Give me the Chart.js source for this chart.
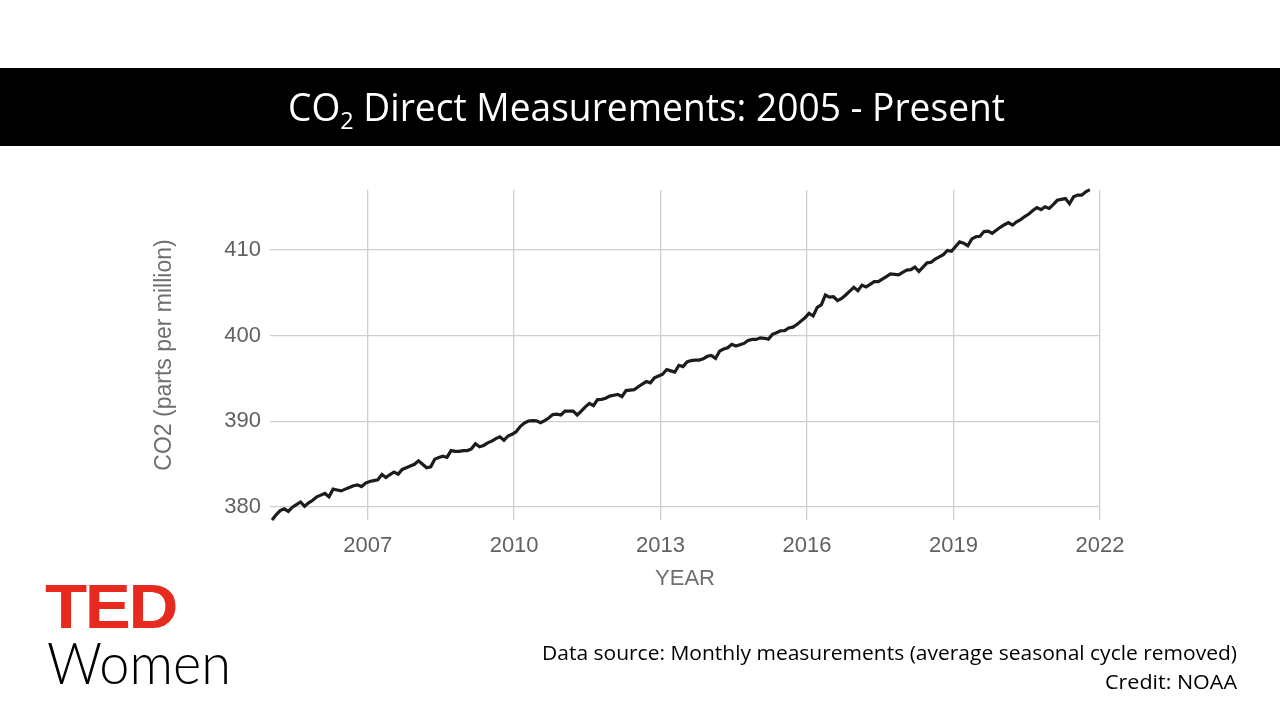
<!DOCTYPE html>
<html>
<head>
<meta charset="utf-8">
<script src="https://cdn.jsdelivr.net/npm/chart.js@4/dist/chart.umd.min.js"></script>
<style>
  html, body { margin: 0; padding: 0; background: #fff; width: 1280px; height: 720px; overflow: hidden; }
  #wrap { position: absolute; left: 0; top: 0; width: 1280px; height: 720px; }
  #bar { position: absolute; left: 0; top: 68px; width: 1280px; height: 78px; background: #000; }
  .fit { position: absolute; white-space: nowrap; transform-origin: 0 0; }
  #title { color: #fff; font-family: "Open Sans", sans-serif; font-size: 38px; line-height: 1; }
  #title sub { font-size: 24px; vertical-align: -8px; line-height: 0; }
  .src { color: #000; font-family: "Open Sans", sans-serif; font-size: 20px; line-height: 1; }
  #ted { color: #e62b1e; font-family: "Liberation Sans", Arial, sans-serif; font-weight: bold; font-size: 58px; line-height: 1; letter-spacing: -2px; }
  #women { color: #000; font-family: "Lato", "Roboto", sans-serif; font-weight: 300; font-size: 58px; line-height: 1; }
  #chartBox { position: absolute; left: 0; top: 0; width: 1280px; height: 720px; }
</style>
</head>
<body>
<div id="wrap">
  <div id="bar"></div>
  <div id="chartBox"><canvas id="c" width="1280" height="720"></canvas></div>
  <div id="title" class="fit">CO<sub>2</sub> Direct Measurements: 2005 - Present</div>
  <div id="src1" class="fit src">Data source: Monthly measurements (average seasonal cycle removed)</div>
  <div id="src2" class="fit src">Credit: NOAA</div>
  <div id="ted" class="fit">TED</div>
  <div id="women" class="fit">Women</div>
</div>
<script>
// ---- Data (monthly CO2, ppm, seasonal cycle removed) ----
const startYear = 2005;
const co2_2005 = [378.5, 379.1, 379.6, 379.8, 379.5, 380.0, 380.3, 380.6, 380.1, 380.5, 380.8, 381.2];
const co2_2006 = [381.4, 381.6, 381.2, 382.1, 382.0, 381.9, 382.1, 382.3, 382.5, 382.6, 382.4, 382.8];
const co2_2007 = [383.0, 383.1, 383.2, 383.8, 383.45, 383.8, 384.1, 383.85, 384.4, 384.6, 384.8, 385.0];
const co2_2008 = [385.4, 385.0, 384.6, 384.7, 385.6, 385.8, 385.95, 385.8, 386.6, 386.5, 386.5, 386.6];
const co2_2009 = [386.6, 386.8, 387.4, 387.05, 387.2, 387.5, 387.7, 388.0, 388.2, 387.8, 388.3, 388.5];
const co2_2010 = [388.8, 389.4, 389.8, 390.05, 390.1, 390.07, 389.85, 390.1, 390.4, 390.8, 390.85, 390.75];
const co2_2011 = [391.2, 391.2, 391.2, 390.75, 391.2, 391.7, 392.1, 391.85, 392.55, 392.57, 392.7, 392.95];
const co2_2012 = [393.05, 393.15, 392.9, 393.6, 393.65, 393.7, 394.05, 394.35, 394.65, 394.5, 395.1, 395.3];
const co2_2013 = [395.5, 396.05, 395.9, 395.75, 396.55, 396.4, 396.95, 397.1, 397.15, 397.15, 397.3, 397.6];
const co2_2014 = [397.7, 397.35, 398.2, 398.45, 398.6, 399.0, 398.8, 398.95, 399.1, 399.45, 399.57, 399.57];
const co2_2015 = [399.75, 399.7, 399.6, 400.16, 400.35, 400.58, 400.6, 400.9, 401.0, 401.3, 401.7, 402.1];
const co2_2016 = [402.6, 402.3, 403.3, 403.6, 404.75, 404.5, 404.55, 404.1, 404.35, 404.75, 405.2, 405.65];
const co2_2017 = [405.25, 405.9, 405.7, 406.0, 406.3, 406.3, 406.6, 406.9, 407.2, 407.15, 407.1, 407.4];
const co2_2018 = [407.65, 407.7, 408.0, 407.5, 408.0, 408.5, 408.56, 408.95, 409.2, 409.45, 409.95, 409.85];
const co2_2019 = [410.4, 410.95, 410.8, 410.5, 411.3, 411.55, 411.6, 412.15, 412.2, 411.95, 412.3, 412.65];
const co2_2020 = [412.95, 413.2, 412.9, 413.3, 413.55, 413.9, 414.2, 414.6, 414.95, 414.7, 415.05, 414.85];
const co2_2021 = [415.3, 415.8, 415.9, 416.0, 415.4, 416.2, 416.4, 416.4, 416.8, 417.05];

const xTicks = [2007, 2010, 2013, 2016, 2019, 2022];
const yTicks = [380, 390, 400, 410];
const xTitle = "YEAR";
const yTitle = "CO2 (parts per million)";

const yearly = [co2_2005, co2_2006, co2_2007, co2_2008, co2_2009, co2_2010, co2_2011,
  co2_2012, co2_2013, co2_2014, co2_2015, co2_2016, co2_2017, co2_2018, co2_2019, co2_2020, co2_2021];
const points = [];
yearly.forEach((arr, yi) => arr.forEach((v, m) => points.push({ x: startYear + yi + (m + 0.5) / 12, y: v })));

// ---- Text fitting helper ----
function fit(id, left, top, width, height) {
  const el = document.getElementById(id);
  const r = el.getBoundingClientRect();
  const sx = width / r.width, sy = height ? height / r.height : 1;
  el.style.left = left + 'px'; el.style.top = top + 'px';
  el.style.transform = `scale(${sx}, ${sy})`;
}
function fitRight(id, right, top, width) {
  fit(id, right - width, top, width);
}
fit('title', 288, 87, 717);
fitRight('src1', 1237, 643, 695);
fitRight('src2', 1237, 672, 132);
fit('ted', 45, 576, 131, 62);
fit('women', 47, 633, 184);

const tickColor = '#616161';
const titleColor = '#6f6f6f';
const gridColor = '#cfcfcf';

new Chart(document.getElementById('c'), {
  type: 'line',
  data: {
    datasets: [{
      data: points,
      borderColor: '#1c1c1c',
      borderWidth: 3.2,
      pointRadius: 0,
      tension: 0,
      clip: false
    }]
  },
  options: {
    responsive: false,
    animation: false,
    events: [],
    layout: { padding: { left: 151, top: 190, right: 180, bottom: 128 } },
    plugins: { legend: { display: false }, tooltip: { enabled: false } },
    scales: {
      x: {
        type: 'linear', min: 2005, max: 2022,
        afterBuildTicks: s => { s.ticks = xTicks.map(v => ({ value: v })); },
        afterFit: s => { s.height = 72; },
        grid: { color: gridColor, lineWidth: 1.3, drawTicks: false },
        border: { display: false },
        ticks: { color: tickColor, padding: 13, maxRotation: 0, autoSkip: false,
                 font: { family: 'Liberation Sans, Arial, sans-serif', size: 22 },
                 callback: v => String(v) },
        title: { display: true, text: xTitle, color: titleColor, padding: 0,
                 font: { family: 'Liberation Sans, Arial, sans-serif', size: 22 } }
      },
      y: {
        type: 'linear', min: 378.5, max: 417.0,
        afterBuildTicks: s => { s.ticks = yTicks.map(v => ({ value: v })); },
        afterFit: s => { s.width = 119; },
        grid: { color: gridColor, lineWidth: 1.3, drawTicks: false },
        border: { display: false },
        ticks: { color: tickColor, padding: 9, autoSkip: false,
                 font: { family: 'Liberation Sans, Arial, sans-serif', size: 22 },
                 callback: v => String(v) },
        title: { display: true, text: yTitle, color: titleColor, padding: 0,
                 font: { family: 'Liberation Sans, Arial, sans-serif', size: 23 } }
      }
    }
  }
});
</script>
</body>
</html>
